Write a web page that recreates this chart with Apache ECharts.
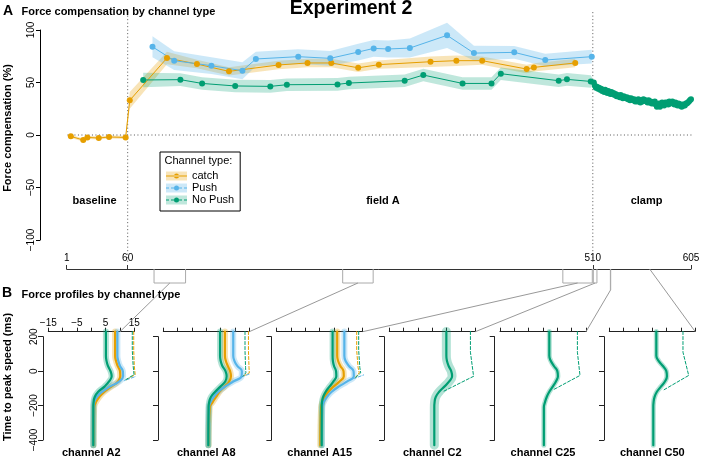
<!DOCTYPE html>
<html><head><meta charset="utf-8">
<script src="https://cdn.jsdelivr.net/npm/echarts@6/dist/echarts.min.js"></script>
<style>html,body{margin:0;padding:0;background:#fff}#c{width:717px;height:458px}</style>
</head><body><div id="c"></div>
<script>
// ================= Panel A data =================
const catchTrials = [5,17,21,32,42,58,62,98,127,158,206,234,257,283,303,353,378,403,446,453,493];
const catchValues = [-1.3,-4.8,-2.3,-2.9,-1.9,-2.3,33,73.3,67.6,60.6,66.7,68.6,68.6,64,67,69.8,70.8,70.8,62.8,64.4,68.6];
const catchCI     = [1.5,1.5,1.5,1.5,1.5,1.5,8,6,4,4,4,4,4,4,4,5,5,4,4,4,4];

const pushTrials = [84,105,141,171,184,225,256,283,298,312,333,369,395,434,464,509];
const pushValues = [84,70.8,66,61.2,72.4,74.6,73,79,82.5,81.9,82.8,94.9,78,78.7,71.4,74.6];
const pushCI     = [10,9,8,8,7,7,7,8,8,8,9,12,7,6,6,6.5];

const noPushTrials = [75,111,132,164,198,214,263,274,328,346,384,412,421,477,485,508];
const noPushValues = [52.4,52.7,49.1,46.7,46.3,47.9,48.2,49.5,51.7,57.1,49.1,49.1,58.4,51.7,53,51];
const noPushCI     = [7,6,6,6,6,6,6,6,6,6,6,6,6,6,6,6];

const clampTrials = [511,512,513,514,515,516,517,518,519,520,521,522,523,524,525,526,527,528,529,530,
  531,532,533,534,535,536,537,538,539,540,541,542,543,544,545,546,547,548,549,550,
  551,552,553,554,555,556,557,558,559,560,561,562,563,564,565,566,567,568,569,570,
  571,572,573,574,575,576,577,578,579,580,581,582,583,584,585,586,587,588,589,590,
  591,592,593,594,595,596,597,598,599,600,601,602,603,604,605];
const clampValues = [50,47,45,46,44,45,43,44,42,43, 41,43,42,40,42,40,39,41,39,40,
  38,39,37,38,37,36,38,36,35,37, 36,35,36,34,35,33,35,34,33,34,
  32,33,32,34,33,31,33,32,34,33, 33,32,31,33,31,32,30,31,30,32,
  29,27,28,30,27,29,31,30,28,31, 30,31,29,32,30,31,32,30,29,31,
  29,28,30,28,29,27,29,28,28,30, 30,31,32,33,34];
const clampHalfWidth = 2;

const trialTicks = [1, 60, 510, 605];
const phaseBoundaries = [60, 510];
const phaseLabels = ['baseline', 'field A', 'clamp'];
const phaseLabelTrials = [28, 307, 562];

// zoom windows (trials) mapped to panel B
const zoomWindows = [[85.5,116],[268,297.5],[481,509.5],[510.5,514],[527,527.3],[565,565]];
const bracketDepth = [14,14,14,14,21,0];
const connectorTargets = [10,15,15,15,15,15];

// ================= Panel B data =================
const channelNames = ['channel A2','channel A8','channel A15','channel C2','channel C25','channel C50'];
const profileTimes = [230,90,60,30,0,-30,-60,-90,-120,-150,-180,-210,-430];

const a2Catch  = [8.3,8.3,8.6,9.2,10.0,10.1,9.3,7.0,4.5,2.8,1.6,1.0,0.8];
const a2Push   = [9.1,9.1,9.4,10.0,11.0,11.1,9.8,6.5,3.8,1.9,1.0,0.8,0.7];
const a2NoPush = [5.1,5.1,5.3,5.8,6.7,7.1,6.2,4.6,2.4,1.2,0.8,0.7,0.7];
const a2IdealTimes  = [230,120,30,-20,-55];
const a2CatchIdeal  = [14.8,14.8,15.0,15.3,11.8];
const a2PushIdeal   = [16.3,16.3,16.8,17.2,11.6];
const a2NoPushIdeal = [14.3,14.3,14.6,14.9,11.5];

const a8Catch  = [6.5,6.5,6.8,7.5,8.3,8.6,8.0,6.4,4.6,3.4,2.2,1.2,0.8];
const a8Push   = [9.4,9.4,9.8,10.8,12.4,12.3,9.4,6.5,4.2,2.6,1.5,0.9,0.7];
const a8NoPush = [4.8,4.8,5.0,5.6,6.7,7.1,6.6,4.9,3.1,1.6,1.0,0.8,0.7];
const a8IdealTimes  = [230,120,20,-10,-32];
const a8CatchIdeal  = [14.7,14.7,14.9,15.0,12.6];
const a8PushIdeal   = [15.8,15.8,16.0,16.1,12.6];
const a8NoPushIdeal = [13.5,13.5,13.7,13.8,12.6];

const a15Catch  = [6.1,6.1,6.4,7.2,8.3,8.4,6.9,4.8,3.0,1.8,1.0,0.5,0.2];
const a15Push   = [8.6,8.6,9.0,10.2,11.8,11.9,9.6,6.6,4.2,2.5,1.4,0.9,0.7];
const a15NoPush = [4.5,4.5,4.6,5.0,5.7,5.8,4.8,3.4,2.1,1.2,0.8,0.7,0.7];
const a15IdealTimes  = [230,120,20,-10,-42];
const a15CatchIdeal  = [12.9,12.9,13.4,13.8,12.2];
const a15PushIdeal   = [16.4,16.4,16.9,17.2,12.2];
const a15NoPushIdeal = [13.6,13.6,14.0,14.3,12.2];

const c2NoPush  = [4.9,4.9,5.1,5.7,6.6,6.9,5.9,4.2,2.4,1.2,0.8,0.7,0.7];
const c2IdealTimes = [230,110,-30,-120];
const c2NoPushIdeal = [13.3,13.3,14.4,3.6];

const c25NoPush = [2.2,2.2,2.7,3.8,5.0,5.2,4.5,3.4,2.2,1.3,0.7,0.3,0.3];
const c25IdealTimes = [230,110,-25,-110];
const c25NoPushIdeal = [12.0,12.0,12.9,3.4];

const c50NoPush = [1.4,1.4,2.2,3.7,4.9,5.1,4.4,3.0,1.6,0.8,0.45,0.35,0.35];
const c50IdealTimes = [230,110,-25,-110];
const c50NoPushIdeal = [10.7,10.7,12.7,3.9];

// ================= styling =================
const FONT = "'Liberation Sans', Arial, Helvetica, sans-serif";
const ORANGE = '#E69F00', BLUE = '#56B4E9', GREEN = '#009E73';
const ORANGE_BAND = 'rgba(230,159,0,0.28)', BLUE_BAND = 'rgba(86,180,233,0.30)', GREEN_BAND = 'rgba(0,158,115,0.25)';
const minus = s => String(s).replace('-', '\u2212');

const panels = [
  {catch:a2Catch, push:a2Push, noPush:a2NoPush, idealT:a2IdealTimes, catchIdeal:a2CatchIdeal, pushIdeal:a2PushIdeal, noPushIdeal:a2NoPushIdeal, band:6},
  {catch:a8Catch, push:a8Push, noPush:a8NoPush, idealT:a8IdealTimes, catchIdeal:a8CatchIdeal, pushIdeal:a8PushIdeal, noPushIdeal:a8NoPushIdeal, band:6},
  {catch:a15Catch, push:a15Push, noPush:a15NoPush, idealT:a15IdealTimes, catchIdeal:a15CatchIdeal, pushIdeal:a15PushIdeal, noPushIdeal:a15NoPushIdeal, band:6},
  {noPush:c2NoPush, idealT:c2IdealTimes, noPushIdeal:c2NoPushIdeal, band:9},
  {noPush:c25NoPush, idealT:c25IdealTimes, noPushIdeal:c25NoPushIdeal, band:5},
  {noPush:c50NoPush, idealT:c50IdealTimes, noPushIdeal:c50NoPushIdeal, band:5}
];
const panelLefts = [48.3, 163.3, 276.7, 389.3, 500, 609.3];

// ================= build option =================
const grids = [{left:66.7, width:624.3, top:30, height:210}];
const xAxes = [{
  gridIndex:0, type:'value', min:1, max:605, position:'bottom', offset:29,
  axisLine:{show:true, onZero:false, lineStyle:{color:'#333', width:1}},
  axisTick:{show:true, inside:true, length:4, customValues:trialTicks, lineStyle:{color:'#333'}},
  axisLabel:{show:true, inside:true, customValues:trialTicks, fontSize:10, color:'#000', fontFamily:FONT, margin:6},
  splitLine:{show:false}
}];
const yAxes = [{
  gridIndex:0, type:'value', min:-100, max:100, interval:50, position:'left', offset:26.7,
  axisLine:{show:true, onZero:false, lineStyle:{color:'#000'}},
  axisTick:{show:true, length:4, lineStyle:{color:'#000'}},
  axisLabel:{rotate:90, fontSize:10, color:'#000', fontFamily:FONT, margin:4, formatter:minus},
  splitLine:{show:false}
}];

panelLefts.forEach((L, i) => {
  grids.push({left:L, width:86, top:336.7, height:103.3});
  xAxes.push({
    gridIndex:i+1, type:'value', min:-15, max:15, interval:5, position:'top', offset:5,
    axisLine:{show:true, onZero:false, lineStyle:{color:'#222'}},
    axisTick:{show:true, length:4, lineStyle:{color:'#222'}},
    axisLabel:{show:i===0, customValues:[-15,-5,5,15], fontSize:10, color:'#000', fontFamily:FONT, margin:3, formatter:minus},
    splitLine:{show:false}
  });
  yAxes.push({
    gridIndex:i+1, type:'value', min:-400, max:200, interval:200, position:'left', offset:5.3,
    axisLine:{show:true, onZero:false, lineStyle:{color:'#222'}},
    axisTick:{show:true, length:5, lineStyle:{color:'#222'}},
    axisLabel:{show:i===0, rotate:90, fontSize:10, color:'#000', fontFamily:FONT, margin:4, formatter:minus},
    splitLine:{show:false}
  });
});

function bandSeries(xs, ys, ci, fill) {
  return {
    type:'custom', xAxisIndex:0, yAxisIndex:0, silent:true, clip:false, z:1,
    data:[[xs[0], ys[0]]],
    renderItem(params, api) {
      const pts = [];
      for (let i = 0; i < xs.length; i++) pts.push(api.coord([xs[i], ys[i] + (Array.isArray(ci) ? ci[i] : ci)]));
      for (let i = xs.length - 1; i >= 0; i--) pts.push(api.coord([xs[i], ys[i] - (Array.isArray(ci) ? ci[i] : ci)]));
      return {type:'polygon', shape:{points:pts}, style:{fill:fill}};
    }
  };
}
function pts(xs, ys) { return xs.map((x, i) => [x, ys[i]]); }

const noPushAllTrials = noPushTrials.concat(clampTrials);
const noPushAllValues = noPushValues.concat(clampValues);
const noPushAllCI = noPushCI.concat(clampTrials.map(() => clampHalfWidth));

const series = [
  bandSeries(catchTrials, catchValues, catchCI, ORANGE_BAND),
  bandSeries(pushTrials, pushValues, pushCI, BLUE_BAND),
  bandSeries(noPushAllTrials, noPushAllValues, noPushAllCI, GREEN_BAND),
  {type:'line', name:'catch', xAxisIndex:0, yAxisIndex:0, data:pts(catchTrials, catchValues), clip:false,
   symbol:'circle', symbolSize:6, itemStyle:{color:ORANGE}, lineStyle:{color:ORANGE, width:1}, z:3},
  {type:'line', name:'Push', xAxisIndex:0, yAxisIndex:0, data:pts(pushTrials, pushValues), clip:false,
   symbol:'circle', symbolSize:6, itemStyle:{color:BLUE}, lineStyle:{color:BLUE, width:1}, z:3},
  {type:'line', name:'No Push', xAxisIndex:0, yAxisIndex:0, data:pts(noPushAllTrials, noPushAllValues), clip:false,
   symbol:'circle', symbolSize:6, itemStyle:{color:GREEN}, lineStyle:{color:GREEN, width:1}, z:3},
  // reference dotted lines
  {type:'line', xAxisIndex:0, yAxisIndex:0, data:[[-22,0],[628,0]], clip:false, silent:true, symbol:'none',
   lineStyle:{color:'#555', width:1, type:[1,2.5]}, z:2},
];
phaseBoundaries.forEach(b => series.push({
  type:'line', xAxisIndex:0, yAxisIndex:0, data:[[b,117],[b,-122]], clip:false, silent:true, symbol:'none',
  lineStyle:{color:'#555', width:1, type:[1,2.5]}, z:2
}));

function prof(k, times, vals, color, width, opacity, dashed, z) {
  return {
    type:'line', xAxisIndex:k, yAxisIndex:k, data:vals.map((v, i) => [v, times[i]]),
    smooth: dashed ? false : 0.45, symbol:'none', clip:false, silent:true, z:z,
    lineStyle:{color:color, width:width, opacity:opacity, type: dashed ? [3,2] : 'solid', cap:'round'}
  };
}
panels.forEach((p, i) => {
  const k = i + 1;
  const kinds = [];
  if (p.catch) kinds.push([p.catch, p.catchIdeal, ORANGE]);
  if (p.push) kinds.push([p.push, p.pushIdeal, BLUE]);
  kinds.push([p.noPush, p.noPushIdeal, GREEN]);
  kinds.forEach(([sol, ideal, col]) => series.push(prof(k, profileTimes, sol, col, p.band, 0.3, false, 2)));
  kinds.forEach(([sol, ideal, col]) => series.push(prof(k, p.idealT, ideal, col, 1, 1, true, 3)));
  kinds.forEach(([sol, ideal, col]) => series.push(prof(k, profileTimes, sol, col, 2.2, 1, false, 4)));
});

const dotPath = 'M8,3A2.5,2.5,0,1,0,13,3A2.5,2.5,0,1,0,8,3Z';
const iconSolid = 'path://M0,2.5H21V3.5H0Z ' + dotPath;
const iconDashed = 'path://M0,2.5H3V3.5H0Z M5,2.5H8V3.5H5Z M13,2.5H16V3.5H13Z M18,2.5H21V3.5H18Z ' + dotPath;

const legendBase = {
  orient:'vertical', left:160, top:152, padding:[18,6,5,6], itemGap:0, itemWidth:21, itemHeight:9,
  selectedMode:false, textStyle:{fontSize:11, fontFamily:FONT, lineHeight:12}
};
const option = {
  animation:false,
  backgroundColor:'#fff',
  grid:grids, xAxis:xAxes, yAxis:yAxes, series:series,
  legend:[
    Object.assign({}, legendBase, {
      borderColor:'#000', borderWidth:1, backgroundColor:'#fff', borderRadius:0, z:10,
      icon:'rect',
      textStyle:Object.assign({}, legendBase.textStyle, {color:'#000'}),
      data:[{name:'catch', itemStyle:{color:ORANGE_BAND}}, {name:'Push', itemStyle:{color:BLUE_BAND}}, {name:'No Push', itemStyle:{color:GREEN_BAND}}]
    }),
    Object.assign({}, legendBase, {
      z:11,
      textStyle:Object.assign({}, legendBase.textStyle, {color:'rgba(0,0,0,0)'}),
      data:[{name:'catch', icon:iconSolid, itemStyle:{color:ORANGE}}, {name:'Push', icon:iconDashed, itemStyle:{color:BLUE}}, {name:'No Push', icon:iconDashed, itemStyle:{color:GREEN}}]
    })
  ]
};

const chart = echarts.init(document.getElementById('c'), null, {renderer:'canvas'});
chart.setOption(option);

// ================= annotations =================
function txt(s, x, y, size, weight, align, rot) {
  return {type:'text', x:x, y:y, rotation:rot || 0, z:100,
    style:{text:s, fontSize:size, fontWeight:weight, fontFamily:FONT, fill:'#000', align:align || 'left', verticalAlign:'middle'}};
}
const g = [];
g.push(txt('A', 3, 11.5, 14, 'bold'));
g.push(txt('Force compensation by channel type', 21.5, 12, 11, 'bold'));
g.push(txt('Experiment 2', 351, 8.5, 19.5, 'bold', 'center'));
g.push(txt('Force compensation (%)', 8, 128, 11, 'bold', 'center', Math.PI/2));
g.push(txt('B', 2, 293.5, 14, 'bold'));
g.push(txt('Force profiles by channel type', 21.5, 295, 11, 'bold'));
g.push(txt('Time to peak speed (ms)', 8, 377, 11, 'bold', 'center', Math.PI/2));
g.push(txt('Channel type:', 164.5, 161, 11, 'normal'));

phaseLabels.forEach((s, i) => {
  const p = chart.convertToPixel({gridIndex:0}, [phaseLabelTrials[i], -62.5]);
  g.push(txt(s, p[0], p[1], 11, 'bold', 'center'));
});
channelNames.forEach((s, i) => {
  const cx = chart.convertToPixel({xAxisIndex:i+1}, 0);
  g.push(txt(s, cx, 453, 11, 'bold', 'center'));
});

const axisY = chart.convertToPixel({yAxisIndex:0}, -100) + 29;
zoomWindows.forEach((w, i) => {
  const x1 = chart.convertToPixel({xAxisIndex:0}, w[0]);
  const x2 = chart.convertToPixel({xAxisIndex:0}, w[1]);
  const d = bracketDepth[i];
  if (d > 0) {
    g.push({type:'polyline', z:50, silent:true,
      shape:{points:[[x1, axisY], [x1, axisY + d], [x2, axisY + d], [x2, axisY]]},
      style:{stroke:'#aaa', fill:null, lineWidth:1}});
  }
  const ex = chart.convertToPixel({xAxisIndex:i+1}, connectorTargets[i]);
  const ey = chart.convertToPixel({yAxisIndex:i+1}, 200) - 5;
  g.push({type:'line', z:50, silent:true,
    shape:{x1:(x1 + x2) / 2, y1:axisY + d, x2:ex, y2:ey},
    style:{stroke:'#999', lineWidth:1}});
});
chart.setOption({graphic:g});
</script>
</body></html>
